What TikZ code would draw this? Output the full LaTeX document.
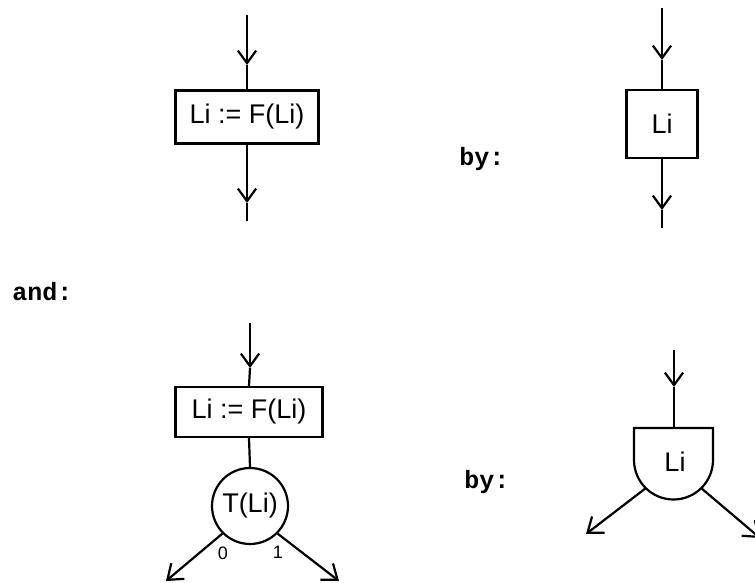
\documentclass[tikz,border=0pt]{standalone}
\usepackage{fontspec}
\setsansfont{Liberation Sans}
\setmonofont{Liberation Mono}
\usetikzlibrary{arrows.meta}

\tikzset{
  flow/.style={line width=1.1pt},
  downtip/.style={flow, -{Straight Barb[length=2.2mm, width=3.2mm]}},
  outtip/.style={flow, -{Straight Barb[length=2.4mm, width=3.6mm]}},
  stmt/.style={draw, flow, inner sep=0pt, font=\sffamily\fontsize{13.5}{14}\selectfont},
  test/.style={draw, flow, circle, inner sep=0pt, minimum size=38pt, font=\sffamily\fontsize{13.5}{14}\selectfont},
  word/.style={font=\ttfamily\bfseries\fontsize{12.5}{13}\selectfont, anchor=base west, inner sep=0pt},
  digit/.style={font=\sffamily\fontsize{9}{10}\selectfont, inner sep=0pt}
}

\begin{document}
\begin{tikzpicture}[x=0.5pt, y=-0.5pt]
  \useasboundingbox (0,0) rectangle (755,583);

  % assignment, old form
  \coordinate (a-in) at (247,15);
  \coordinate (a-m1) at (247,65);
  \node[stmt, minimum width=71.5pt, minimum height=26.5pt] (a-box) at (247,117) {Li := F(Li)};
  \coordinate (a-m2) at (247,203);
  \coordinate (a-out) at (247,221);
  \draw[downtip] (a-in) -- (a-m1);
  \draw[flow] (a-m1) -- (a-box.north);
  \draw[downtip] (a-box.south) -- (a-m2);
  \draw[flow] (a-m2) -- (a-out);

  \node[word] (by1) at (459,165) {by:};

  % assignment, new form
  \coordinate (b-in) at (662,8);
  \coordinate (b-m1) at (662,60);
  \node[stmt, minimum width=35.5pt, minimum height=34pt] (b-box) at (662,124) {Li};
  \coordinate (b-m2) at (662,210);
  \coordinate (b-out) at (662,228);
  \draw[downtip] (b-in) -- (b-m1);
  \draw[flow] (b-m1) -- (b-box.north);
  \draw[downtip] (b-box.south) -- (b-m2);
  \draw[flow] (b-m2) -- (b-out);

  \node[word] (and) at (12,300) {and:};

  % assignment followed by a test, old form
  \coordinate (c-in) at (250,323);
  \coordinate (c-m1) at (250,368);
  \node[stmt, minimum width=73.5pt, minimum height=25pt] (c-box) at (249,412) {Li := F(Li)};
  \node[test] (c-test) at (250,506) {T(Li)};
  \coordinate (c-zero) at (166,581);
  \coordinate (c-one) at (339,581);
  \draw[downtip] (c-in) -- (c-m1);
  \draw[flow] (c-m1) -- (c-box.north);
  \draw[flow] (c-box.south) -- (c-test.north);
  \draw[outtip] (c-test.south west) -- (c-zero);
  \draw[outtip] (c-test.south east) -- (c-one);
  \node[digit] (c-l0) at (223,553) {0};
  \node[digit] (c-l1) at (278,552) {1};

  \node[word] (by2) at (464,488) {by:};

  % assignment followed by a test, new form
  \coordinate (d-in) at (674,350);
  \coordinate (d-m1) at (674,387);
  \coordinate (d-top) at (674,428);
  \draw[flow] (634,428) -- (713,428) -- (713,460)
    arc[start angle=0, end angle=-180, radius=19.75pt] -- cycle;
  \node[font=\sffamily\fontsize{13.5}{14}\selectfont, inner sep=0pt] (d-lab) at (675,462) {Li};
  \coordinate (d-left) at (646,488);
  \coordinate (d-right) at (701,488);
  \coordinate (d-zero) at (586,534);
  \coordinate (d-one) at (760,538);
  \draw[downtip] (d-in) -- (d-m1);
  \draw[flow] (d-m1) -- (d-top);
  \draw[outtip] (d-left) -- (d-zero);
  \draw[outtip] (d-right) -- (d-one);
\end{tikzpicture}
\end{document}
